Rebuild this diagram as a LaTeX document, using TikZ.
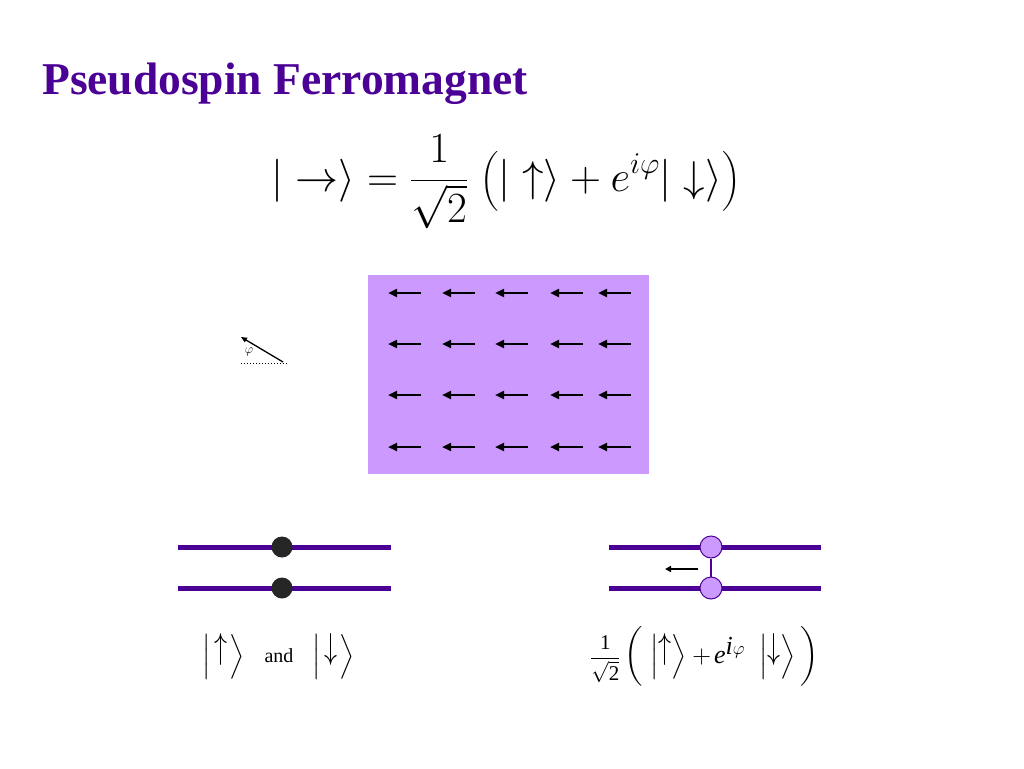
\RequirePackage{fix-cm}
\documentclass[tikz,border=0pt]{standalone}
\usepackage{exscale}
\usepackage[no-math]{fontspec}
\setmainfont{Liberation Serif}
\usetikzlibrary{arrows.meta}
\definecolor{ttl}{RGB}{75,0,150}
\definecolor{lav}{RGB}{204,153,255}
\newcommand\ketX[2]{\left|\rule[-0.65em]{0pt}{1.8em}\mkern#1mu\raisebox{0.187em}{\scalebox{1}[1.39]{$#2$}}\mkern#1mu\right\rangle}
\newcommand\bigpar[1]{\hbox{\fontsize{30}{34}\selectfont$\left#1\rule[-0.65em]{0pt}{1.8em}\right.$}}
\tikzset{
  spin/.style={line width=2.5pt,-{Triangle[length=9pt,width=8pt]}},
  lvl/.style={line width=5pt,draw=ttl},
  elec/.style={circle,fill=black!85,minimum size=21pt,inner sep=0pt},
  pelec/.style={circle,fill=lav,draw=ttl,line width=1pt,minimum size=22pt,inner sep=0pt},
}
\begin{document}
\begin{tikzpicture}[x=1pt,y=-1pt]
\useasboundingbox (0,0) rectangle (1024,768);
\fill[white] (0,0) rectangle (1024,768);
% title
\node[anchor=base west,inner sep=0pt,text=ttl,font=\fontsize{45.5}{50}\selectfont\bfseries] (title) at (42,94) {Pseudospin Ferromagnet};
% main equation
\node[inner sep=0pt,font=\fontsize{43}{52}\selectfont] (eq) at (506,182)
  {$\displaystyle |\rightarrow\rangle = \frac{1}{\sqrt{2}}\;\bigl(|\uparrow\rangle + e^{i\varphi}|\downarrow\rangle\bigr)$};
% panel
\node[fill=lav,minimum width=281pt,minimum height=199pt,inner sep=0pt,anchor=north west] (panel) at (368,275) {};
\foreach \y in {293,344,395,447}{
  \foreach \x in {388,442,495,550,598}{
    \draw[spin] (\x+33,\y) -- (\x,\y);
  }
}
% angle icon
\coordinate (ang0) at (283,362);
\coordinate (ang1) at (241,337);
\draw[line width=1.3pt,-{Triangle[length=6pt,width=5pt]}] (ang0) -- (ang1);
\draw[dotted,line width=1pt] (241,363) -- (287,363);
\node[inner sep=0pt,font=\fontsize{13}{15}\selectfont] (phi) at (249,352) {$\varphi$};
% bottom left
\draw[lvl] (178,547) -- (391,547);
\draw[lvl] (178,588) -- (391,588);
\node[elec] (e1) at (282,547) {};
\node[elec] (e2) at (282,588) {};
\node[inner sep=0pt,font=\fontsize{26}{30}\selectfont] (ketu) at (224,656.5) {$\ketX{2}{\uparrow}$};
\node[inner sep=0pt,font=\fontsize{20}{24}\selectfont] (and) at (279,656) {and};
\node[inner sep=0pt,font=\fontsize{26}{30}\selectfont] (ketd) at (334,656.5) {$\ketX{2}{\downarrow}$};
% bottom right
\draw[lvl] (609,547) -- (821,547);
\draw[lvl] (609,588) -- (821,588);
\node[pelec] (p1) at (711,547) {};
\node[pelec] (p2) at (711,588) {};
\draw[ttl,line width=1.5pt] (p1) -- (p2);
\coordinate (sa) at (698,569);
\coordinate (sb) at (665,569);
\draw[line width=2pt,-{Triangle[length=6pt,width=6pt]}] (sa) -- (sb);
\node[inner sep=0pt,font=\fontsize{26}{30}\selectfont] (eq2) at (705,656)
  {$\hbox{\fontsize{21}{24}\selectfont$\displaystyle\frac{\textrm{1}}{\sqrt{\textrm{2}}}$}\mkern3mu\bigpar(\mkern1mu\ketX{0}{\uparrow}\mkern1mu{+}\mkern2mu\textit{e}^{\textit{i}\varphi}\mkern7mu\ketX{0}{\downarrow}\mkern0mu\bigpar)$};
\end{tikzpicture}
\end{document}
